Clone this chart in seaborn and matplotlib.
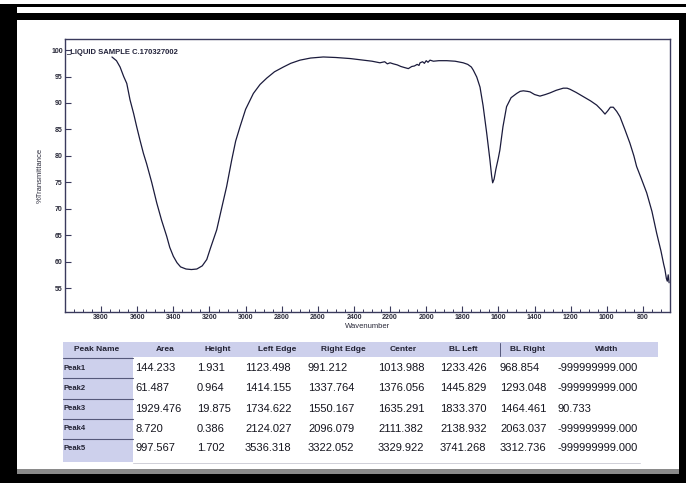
import numpy as np
import pandas as pd
import matplotlib
matplotlib.use("Agg")
import matplotlib.pyplot as plt
from matplotlib.patches import Rectangle
from matplotlib.lines import Line2D
from matplotlib.ticker import MultipleLocator
import seaborn as sns

# ---------------- data ----------------
wavenumber = [3740, 3715, 3695, 3675, 3658, 3640, 3620, 3603, 3585, 3566, 3548, 3520,
              3492, 3465, 3437, 3420, 3400, 3380, 3360, 3330, 3300, 3270, 3240, 3215,
              3195, 3175, 3160, 3130, 3105, 3077, 3055, 3031, 3000, 2957, 2920, 2883,
              2840, 2791, 2750, 2699, 2640, 2570, 2500, 2420, 2348, 2300, 2256, 2230,
              2215, 2200, 2182, 2160, 2140, 2120, 2099, 2080, 2065, 2050, 2040, 2034,
              2020, 2010, 2000, 1990, 1979, 1960, 1930, 1886, 1840, 1795, 1770, 1750,
              1739, 1720, 1702, 1685, 1665, 1647, 1638, 1632, 1624, 1614, 1601, 1592,
              1575, 1555, 1530, 1499, 1480, 1462, 1440, 1425, 1400, 1370, 1340, 1315,
              1280, 1241, 1220, 1204, 1170, 1130, 1090, 1056, 1030, 1010, 995, 980,
              964, 945, 927, 900, 872, 850, 835, 810, 779, 750, 724, 700, 685, 678,
              670, 665, 660, 655]
transmittance = [98.7, 98.0, 96.8, 95.0, 93.7, 90.6, 88.0, 85.5, 83.0, 80.5, 78.5, 75.0,
                 71.1, 67.8, 64.8, 62.7, 61.0, 59.8, 59.0, 58.6, 58.5, 58.6, 59.2, 60.4,
                 62.5, 64.5, 66.0, 70.5, 74.2, 79.2, 82.8, 85.5, 88.8, 91.8, 93.5, 94.7,
                 95.9, 96.8, 97.5, 98.1, 98.5, 98.7, 98.6, 98.4, 98.1, 97.9, 97.6, 97.8,
                 97.4, 97.6, 97.4, 97.2, 96.9, 96.7, 96.5, 96.9, 97.0, 97.3, 97.1, 97.6,
                 97.8, 97.5, 98.0, 97.7, 98.1, 97.9, 98.0, 98.0, 97.9, 97.6, 97.3, 96.8,
                 96.2, 94.9, 93.0, 89.5, 84.3, 79.2, 76.3, 74.9, 75.6, 77.5, 79.5, 81.1,
                 85.5, 89.3, 91.0, 91.8, 92.2, 92.3, 92.2, 92.1, 91.6, 91.3, 91.6, 91.9,
                 92.4, 92.8, 92.8, 92.6, 92.0, 91.2, 90.4, 89.6, 88.7, 87.9, 88.5, 89.2,
                 89.2, 88.4, 87.4, 85.0, 82.4, 80.0, 78.0, 75.8, 73.0, 69.5, 65.4, 62.0,
                 59.5, 58.5, 56.8, 56.3, 57.5, 56.0]

x_ticks = [3800, 3600, 3400, 3200, 3000, 2800, 2600, 2400, 2200, 2000, 1800, 1600, 1400, 1200, 1000, 800]
x_tick_labels = ["3800", "3600", "3400", "3200", "3000", "2800", "2600", "2400", "2200",
                 "2000", "1800", "1600", "1400", "1200", "1000", "800"]
y_ticks = [55, 60, 65, 70, 75, 80, 85, 90, 95, 100]
y_tick_labels = ["55", "60", "65", "70", "75", "80", "85", "90", "95", "100"]

sample_title = "LIQUID SAMPLE C.170327002"

table_headers = ["Peak Name", "Area", "Height", "Left Edge", "Right Edge", "Center", "BL Left", "BL Right", "Width"]
peak_names = ["Peak1", "Peak2", "Peak3", "Peak4", "Peak5"]
area = ["144.233", "61.487", "1929.476", "8.720", "997.567"]
height = ["1.931", "0.964", "19.875", "0.386", "1.702"]
left_edge = ["1123.498", "1414.155", "1734.622", "2124.027", "3536.318"]
right_edge = ["991.212", "1337.764", "1550.167", "2096.079", "3322.052"]
center = ["1013.988", "1376.056", "1635.291", "2111.382", "3329.922"]
bl_left = ["1233.426", "1445.829", "1833.370", "2138.932", "3741.268"]
bl_right = ["968.854", "1293.048", "1464.461", "2063.037", "3312.736"]
width = ["-999999999.000", "-999999999.000", "90.733", "-999999999.000", "-999999999.000"]

# ---------------- style ----------------
sns.set_style("ticks")
plt.rcParams['font.family'] = ['Liberation Sans', 'DejaVu Sans']

W, H = 686, 483
fig = plt.figure(figsize=(W / 100, H / 100), dpi=100)
fig.patch.set_facecolor("white")


def fx(px):
    return px / W


def fy(py):
    return 1 - py / H


def rect(x0, y0, x1, y1, color="black", z=0):
    fig.add_artist(Rectangle((fx(x0), fy(y1)), fx(x1) - fx(x0), fy(y0) - fy(y1),
                             transform=fig.transFigure, facecolor=color,
                             edgecolor="none", zorder=z))


# frame
rect(0, 4, W, 6.5)
rect(0, 4, 17, H)
rect(9, 13, W, 20)
rect(679, 13, W, H)
rect(17, 469, 679, 474, color="#8a8a8a")
rect(0, 474, W, H)

# ---------------- spectrum ----------------
ax = fig.add_axes([fx(65), fy(312), fx(670) - fx(65), fy(39) - fy(312)])
ax.set_facecolor("white")
df = pd.DataFrame({"Wavenumber": wavenumber, "%Transmittance": transmittance})
sns.lineplot(data=df, x="Wavenumber", y="%Transmittance", sort=False, ax=ax,
             color="#1b1b3c", linewidth=0.9)
ax.set_xlim(4000, 650)
ax.set_ylim(50.47, 102.1)

spine_c = "#3a3a5c"
for s in ax.spines.values():
    s.set_visible(True)
    s.set_color(spine_c)
    s.set_linewidth(1.0)

ax.set_xticks(x_ticks)
ax.set_xticklabels(x_tick_labels)
ax.set_yticks(y_ticks)
ax.set_yticklabels(y_tick_labels)
ax.xaxis.set_minor_locator(MultipleLocator(50))
ax.tick_params(axis="both", which="major", direction="in", length=4, width=0.8,
               color=spine_c, labelsize=5, labelcolor="#2a2a3a", pad=1.5)
ax.tick_params(axis="x", which="minor", direction="in", length=2, width=0.7, color=spine_c)
ax.tick_params(top=False, right=False)
for lab in ax.get_xticklabels() + ax.get_yticklabels():
    lab.set_fontweight("bold")

ax.set_xlabel("Wavenumber", fontsize=5.5, color="#2a2a3a")
ax.xaxis.set_label_coords(0.5, -(326 - 312) / 273)
ax.xaxis.label.set_va("center")
ax.set_ylabel("%Transmittance", fontsize=5.5, color="#2a2a3a")
ax.yaxis.set_label_coords(-(65 - 40) / 605, 0.5)
ax.yaxis.label.set_va("center")

ax.text(0.002, 0.952, "_" + sample_title, transform=ax.transAxes, fontsize=5.5,
        va="center", ha="left", color="#22223a", fontweight="bold")

# ---------------- table ----------------
shade = "#cdd0ec"
rect(63, 342, 658, 357, color=shade)
rect(63, 357, 133, 462, color=shade)
for sy in [358, 378, 399, 419, 439]:
    fig.add_artist(Line2D([fx(63), fx(133)], [fy(sy), fy(sy)], transform=fig.transFigure,
                          color="#55587a", linewidth=0.8))
fig.add_artist(Line2D([fx(500), fx(500)], [fy(343), fy(356)], transform=fig.transFigure,
                      color="#55587a", linewidth=0.7))
fig.add_artist(Line2D([fx(133), fx(640)], [fy(463), fy(463)], transform=fig.transFigure,
                      color="#d0d0d8", linewidth=0.7))

header_x = [97, 165, 218, 277, 343, 403, 463, 527, 607]
for hx, txt in zip(header_x, table_headers):
    fig.text(fx(hx), fy(349.5), txt, ha="center", va="center", fontsize=6,
             fontweight="bold", color="#222233")

row_y = [368, 388, 409, 429, 448]
col_x = [135, 197, 245, 308, 378, 440, 500, 557]
columns = [area, height, left_edge, right_edge, center, bl_left, bl_right, width]
for i, ry in enumerate(row_y):
    fig.text(fx(64), fy(ry), peak_names[i], ha="left", va="center", fontsize=5.5,
             fontweight="bold", color="#222233")
    for cx, col in zip(col_x, columns):
        fig.text(fx(cx), fy(ry), col[i], ha="left", va="center", fontsize=8,
                 color="#15151f")

fig.savefig("out.png", dpi=100, facecolor="white")
